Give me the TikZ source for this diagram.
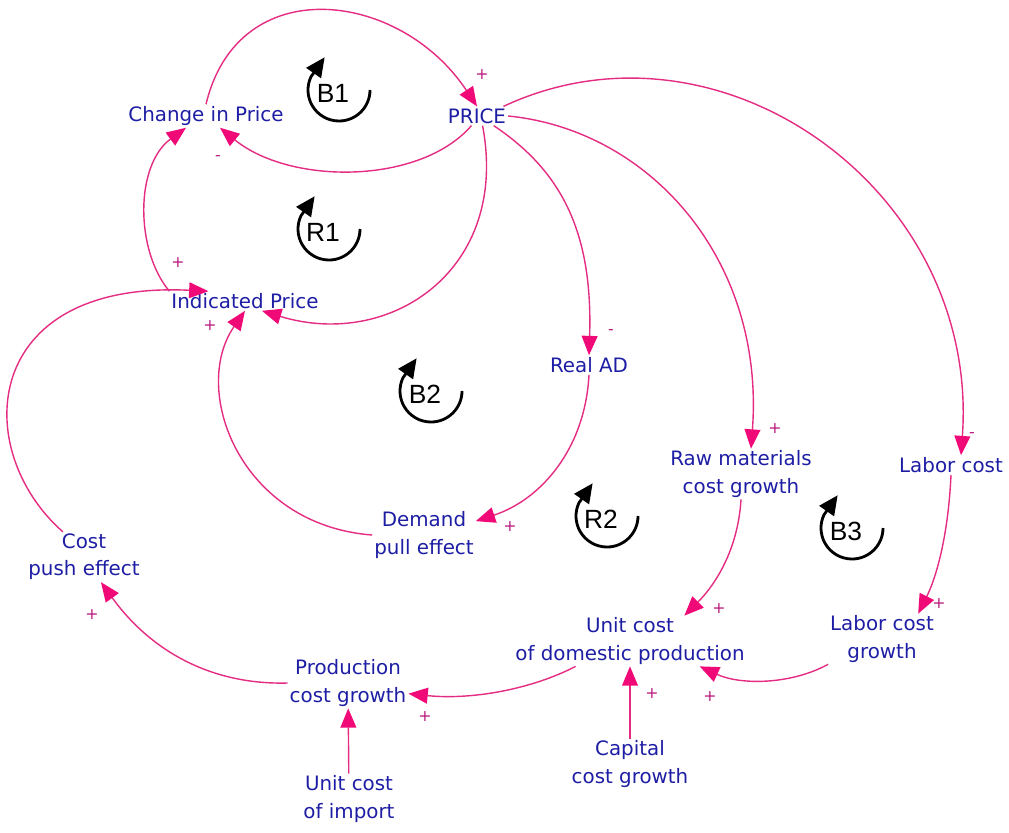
\documentclass[tikz,border=0pt]{standalone}
\usepackage{fontspec}
\setmainfont{DejaVu Sans}
\setsansfont{Liberation Sans}
\usepackage{tikz}
\usetikzlibrary{arrows.meta}
\definecolor{linkpink}{RGB}{228,45,130}
\definecolor{headpink}{RGB}{240,10,120}
\definecolor{varblue}{RGB}{30,30,165}
\definecolor{signpink}{RGB}{185,25,125}

\begin{document}
\begin{tikzpicture}[x=0.2mm, y=0.2mm,
    var/.style={text=varblue, align=center, inner sep=1pt, font=\fontsize{11.3}{15.5}\selectfont},
    link/.style={draw=linkpink, line width=0.8pt, -{Triangle[length=11pt,width=9pt,color=headpink]}},
    sgn/.style={text=signpink, inner sep=0pt, font=\fontsize{9}{9}\selectfont},
    looptxt/.style={inner sep=0pt, font=\sffamily\fontsize{15}{15}\selectfont},
    loopbend/.style={line width=1.6pt, -{Triangle[length=11pt,width=10pt]}}]

    \useasboundingbox (0,0) rectangle (1009,-832);

    % variables
    \node[var] (cip)    at (206,-116) {Change in Price};
    \node[var] (price)  at (477,-116) {PRICE};
    \node[var] (ip)     at (245,-301) {Indicated Price};
    \node[var] (realad) at (589,-365) {Real AD};
    \node[var] (rawmat) at (741,-474) {Raw materials\\cost growth};
    \node[var] (lc)     at (951,-465) {Labor cost};
    \node[var] (dpe)    at (424,-535) {Demand\\pull effect};
    \node[var] (cpe)    at (84,-557)  {Cost\\push effect};
    \node[var] (ucdp)   at (630,-641) {Unit cost\\of domestic production};
    \node[var] (lcg)    at (882,-639) {Labor cost\\growth};
    \node[var] (pcg)    at (348,-683) {Production\\cost growth};
    \node[var] (ccg)    at (630,-764) {Capital\\cost growth};
    \node[var] (uci)    at (349,-799) {Unit cost\\of import};

    % links
    \draw[link] (cip.north) .. controls (238,30) and (400,10) .. (price.north);
    \draw[link] (price.240) .. controls (420,-185) and (290,-185) .. (cip.320);
    \draw[link] (ip.north west) .. controls (135,-250) and (135,-165) .. ([xshift=-4mm]cip.south);
    \draw[link] (price.-60) .. controls (510,-270) and (390,-350) .. (ip.-30);
    \draw[link] (dpe.west) .. controls (240,-525) and (190,-390) .. (ip.south);
    \draw[link] (cpe.130) .. controls (-30,-450) and (-20,-280) .. (ip.165);
    \draw[link] (price.-30) .. controls (560,-170) and (593,-230) .. (realad.north);
    \draw[link] (realad.south) .. controls (585,-450) and (540,-500) .. (dpe.15);
    \draw[link] (price.east) .. controls (650,-130) and (765,-260) .. ([xshift=2mm]rawmat.north);
    \draw[link] (price.20) .. controls (720,-5) and (980,-190) .. ([xshift=2mm]lc.north);
    \draw[link] (rawmat.south) .. controls (738,-550) and (715,-585) .. (ucdp.25);
    \draw[link] (lc.south) .. controls (948,-540) and (935,-580) .. (lcg.35);
    \draw[link] (lcg.south west) .. controls (790,-685) and (740,-685) .. (ucdp.-20);
    \draw[link] (ccg) -- (ucdp);
    \draw[link] (ucdp.205) .. controls (530,-690) and (470,-700) .. (pcg.-10);
    \draw[link] (uci) -- (pcg);
    \draw[link] (pcg.west) .. controls (210,-685) and (150,-650) .. (cpe.-56);

    % polarities
    \foreach \i/\x/\y/\s in {1/482/75/+, 2/218/158/-, 3/178/263/+, 4/210/326/+,
        5/611/332/-, 6/510/527/+, 7/775/429/+, 8/972/435/-, 9/719/609/+,
        10/939/604/+, 11/710/697/+, 12/652/694/+, 13/425/717/+, 14/92/615/+}
        \node[sgn] (sg\i) at (\x,-\y) {\s};

    % loop markers
    \foreach \nm/\px/\py in {B1/339/90, R1/329/229, B2/431/391, R2/607/516, B3/852/528} {
        \coordinate (c\nm) at (\px,-\py);
        \draw[loopbend] (c\nm) ++(0:6.2mm) arc[start angle=0, end angle=-205, radius=6.2mm]
            -- ++(55:4.8mm);
        \node[looptxt] (t\nm) at ([shift={(-6,-3)}]c\nm) {\nm};
    }

\end{tikzpicture}
\end{document}
